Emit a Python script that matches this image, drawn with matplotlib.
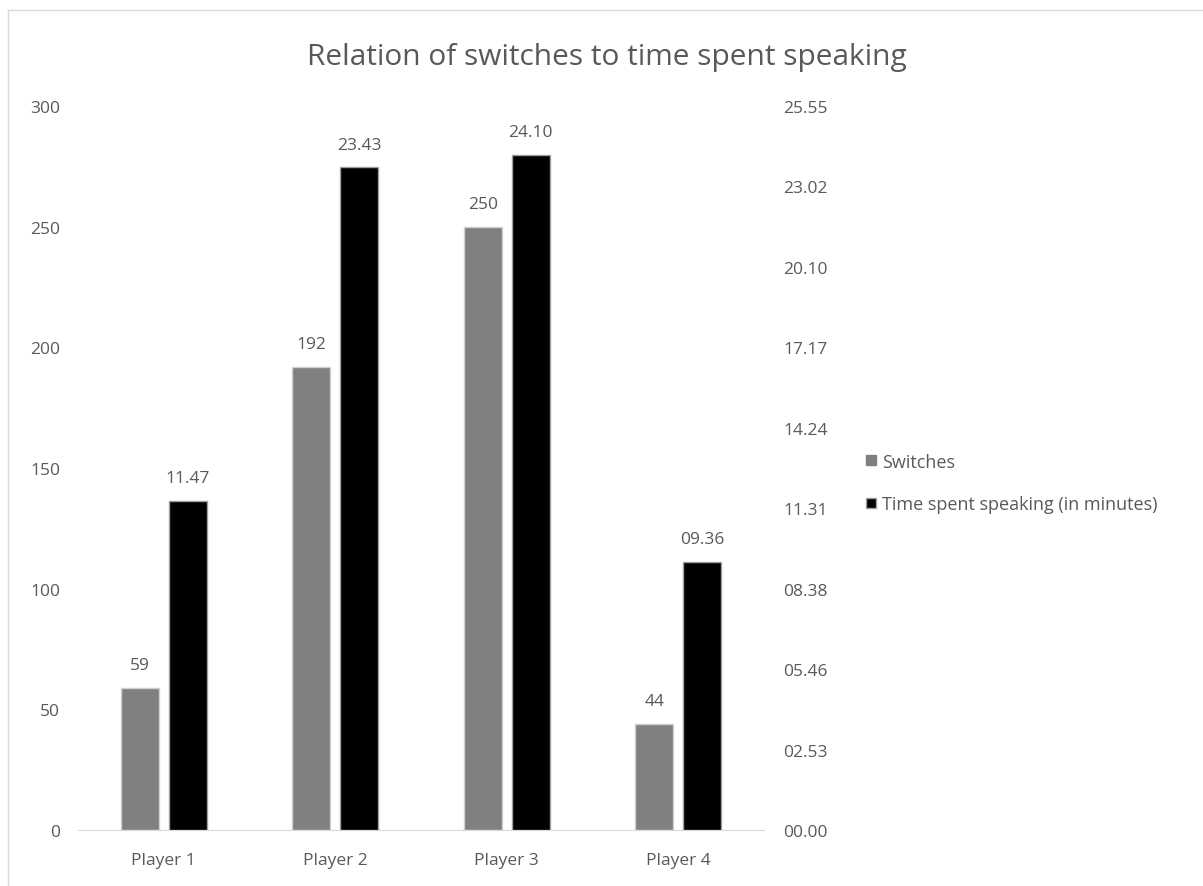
import matplotlib.pyplot as plt
import numpy as np
from matplotlib.lines import Line2D

plt.rcParams['font.family'] = ['Open Sans', 'DejaVu Sans']

# ── 데이터 ──────────────────────────────────────────
players = ['Player 1', 'Player 2', 'Player 3', 'Player 4']
switches = [59, 192, 250, 44]
speak_labels = ['11.47', '23.43', '24.10', '09.36']      # mm.ss
left_ticks = [0, 50, 100, 150, 200, 250, 300]
right_tick_labels = ['00.00', '02.53', '05.46', '08.38', '11.31',
                     '14.24', '17.17', '20.10', '23.02', '25.55']

TXT = '#595959'
GRAY = '#808080'
FS = 12.5


def to_sec(s):
    m, sec = s.split('.')
    return int(m) * 60 + int(sec)


speak_sec = [to_sec(s) for s in speak_labels]
right_max = to_sec(right_tick_labels[-1])

fig = plt.figure(figsize=(12.03, 8.87), dpi=100)
ax = fig.add_axes([78 / 1203, 1 - 831 / 887, 686 / 1203, 724 / 887])
ax2 = ax.twinx()

x = np.arange(len(players))
w = 0.22
off = 0.14
b1 = ax.bar(x - off, switches, w, color=GRAY, edgecolor='#d0d0d0', lw=1, label='Switches')
b2 = ax2.bar(x + off, speak_sec, w, color='black', edgecolor='#a0a0a0', lw=1,
             label='Time spent speaking (in minutes)')

for r, v in zip(b1, switches):
    ax.text(r.get_x() + r.get_width() / 2, v + 6, str(v), ha='center', va='bottom',
            fontsize=FS, color=TXT)
for r, v, s in zip(b2, speak_sec, speak_labels):
    ax2.text(r.get_x() + r.get_width() / 2, v + 31, s, ha='center', va='bottom',
             fontsize=FS, color=TXT)

ax.set_xlim(-0.5, len(players) - 0.5)
ax.set_ylim(0, 300)
ax2.set_ylim(0, right_max)
ax.set_yticks(left_ticks)
ax2.set_yticks(np.linspace(0, right_max, len(right_tick_labels)))
ax2.set_yticklabels(right_tick_labels)
ax.set_xticks(x)
ax.set_xticklabels(players)

for a in (ax, ax2):
    for sp in a.spines.values():
        sp.set_visible(False)
    a.tick_params(length=0, labelsize=FS, labelcolor=TXT)
ax.spines['bottom'].set_visible(True)
ax.spines['bottom'].set_color('#d9d9d9')
ax.tick_params(axis='y', pad=13)
ax.tick_params(axis='x', pad=16)
ax2.tick_params(axis='y', pad=14)

fig.text(607 / 1203, 1 - 57 / 887, 'Relation of switches to time spent speaking',
         ha='center', va='center', fontsize=21.5, color=TXT)

handles = [Line2D([], [], marker='s', ls='', color=GRAY, markersize=7),
           Line2D([], [], marker='s', ls='', color='black', markeredgecolor='#a0a0a0',
                  markersize=7)]
fig.legend(handles, ['Switches', 'Time spent speaking (in minutes)'],
           loc='center left', bbox_to_anchor=(846 / 1203, 1 - 484 / 887),
           frameon=False, fontsize=13, labelcolor=TXT, handletextpad=0.1,
           handlelength=1, labelspacing=1.35)

# 시트 테두리
fig.add_artist(Line2D([8 / 1203, 1], [1 - 11 / 887] * 2, color='#d9d9d9', lw=1))
fig.add_artist(Line2D([8 / 1203] * 2, [0, 1 - 11 / 887], color='#d9d9d9', lw=1))

fig.savefig('out.png', dpi=100)
